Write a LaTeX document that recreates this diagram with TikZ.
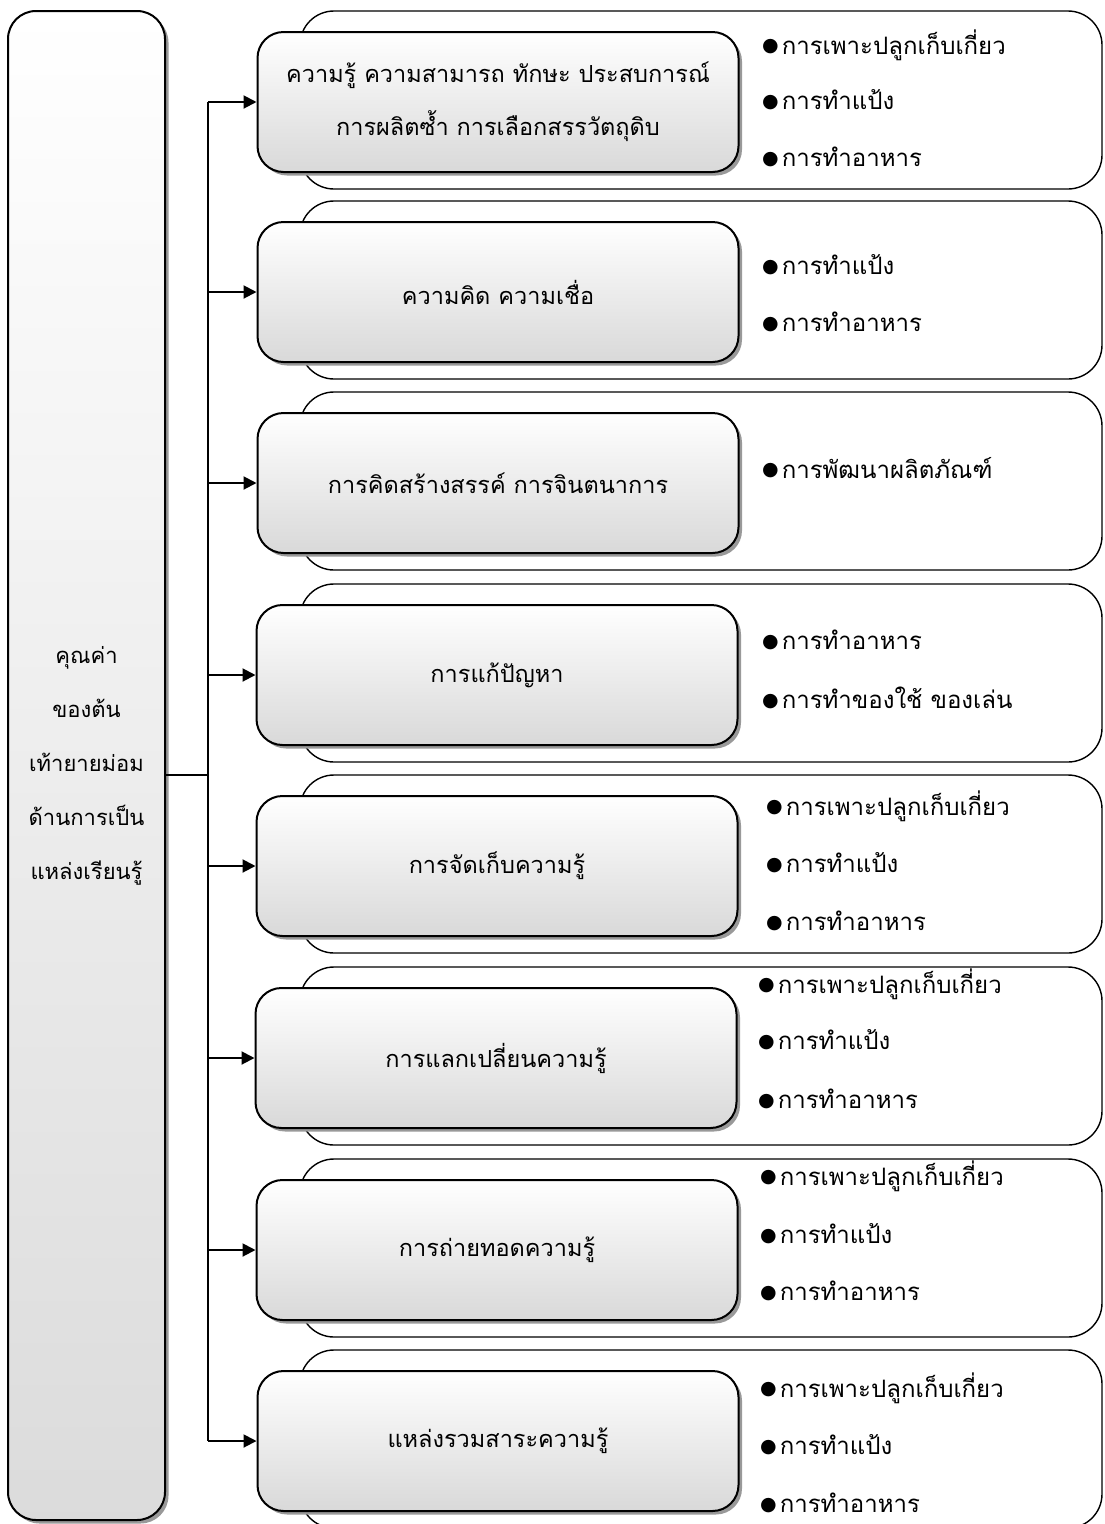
\documentclass[tikz,border=0pt]{standalone}
\usepackage{fontspec}
\newfontfamily\thai[Script=Thai]{Loma}
\newfontfamily\dejavu{DejaVu Sans}
\usetikzlibrary{arrows.meta,shadows}
\tikzset{
  innerbox/.style={draw=black, line width=2pt, rounded corners=26pt, top color=white, bottom color=black!15,
     minimum width=481pt, minimum height=140pt, inner sep=0pt, align=center,
     font=\thai\fontsize{23.5}{53}\selectfont,
     drop shadow={shadow xshift=3.5pt, shadow yshift=-3.5pt, fill=black!40, opacity=1}},
  leftbox/.style={draw=black, line width=2pt, rounded corners=28pt, top color=white, bottom color=black!14,
     minimum width=157pt, minimum height=1509pt, inner sep=0pt, align=center,
     font=\thai\fontsize{22}{54}\selectfont,
     drop shadow={shadow xshift=3.5pt, shadow yshift=-3.5pt, fill=black!40, opacity=1}},
  itemtxt/.style={anchor=west, inner sep=0pt, font=\thai\fontsize{24}{26}\selectfont},
  outerline/.style={line width=1.4pt, rounded corners=34pt, fill=white},
  conn/.style={line width=2pt},
  arr/.style={line width=2pt, -{Triangle[length=13pt,width=13pt]}},
}
\newcommand{\bul}{\raisebox{2.5pt}{\dejavu\fontsize{19}{19}\selectfont ●}\hspace{3pt}}
\begin{document}
\begin{tikzpicture}[x=1pt,y=-1pt]
\useasboundingbox (0,0) rectangle (1104,1524);
% outer boxes
\foreach \t in {32,222,413,605,796,988,1180,1371}{
  \draw[outerline] (300,\t-21) rectangle (1102,\t+157);
}
% left box
\node[leftbox] (L) at (86.5,765.5) {คุณค่า\\ของต้น\\เท้ายายม่อม\\ด้านการเป็น\\แหล่งเรียนรู้};
% inner boxes
\node[innerbox] (b1) at (498,102) {ความรู้ ความสามารถ ทักษะ ประสบการณ์\\การผลิตซ้ำ การเลือกสรรวัตถุดิบ};
\node[innerbox] (b2) at (498,292) {ความคิด ความเชื่อ};
\node[innerbox] (b3) at (498,483) {การคิดสร้างสรรค์ การจินตนาการ};
\node[innerbox] (b4) at (497,675) {การแก้ปัญหา};
\node[innerbox] (b5) at (497,866) {การจัดเก็บความรู้};
\node[innerbox] (b6) at (496,1058) {การแลกเปลี่ยนความรู้};
\node[innerbox] (b7) at (497,1250) {การถ่ายทอดความรู้};
\node[innerbox] (b8) at (498,1441) {แหล่งรวมสาระความรู้};
% connectors
\coordinate (t1) at (208,102);
\coordinate (t8) at (208,1441);
\coordinate (j) at (208,775);
\draw[conn] (t1) -- (t8);
\draw[conn] (L.east |- j) -- (j);
\foreach \b in {b1,b2,b3,b4,b5,b6,b7,b8}{
  \draw[arr] (t1 |- \b.west) -- (\b.west);
}
% items
\node[itemtxt] (i11) at (762,45) {\bul การเพาะปลูกเก็บเกี่ยว};
\node[itemtxt] (i12) at (762,100) {\bul การทำแป้ง};
\node[itemtxt] (i13) at (762,157) {\bul การทำอาหาร};
\node[itemtxt] (i21) at (762,265) {\bul การทำแป้ง};
\node[itemtxt] (i22) at (762,322) {\bul การทำอาหาร};
\node[itemtxt] (i31) at (762,468) {\bul การพัฒนาผลิตภัณฑ์};
\node[itemtxt] (i41) at (762,640) {\bul การทำอาหาร};
\node[itemtxt] (i42) at (762,698) {\bul การทำของใช้ ของเล่น};
\node[itemtxt] (i51) at (766,806) {\bul การเพาะปลูกเก็บเกี่ยว};
\node[itemtxt] (i52) at (766,863) {\bul การทำแป้ง};
\node[itemtxt] (i53) at (766,921) {\bul การทำอาหาร};
\node[itemtxt] (i61) at (758,984) {\bul การเพาะปลูกเก็บเกี่ยว};
\node[itemtxt] (i62) at (758,1040) {\bul การทำแป้ง};
\node[itemtxt] (i63) at (758,1099) {\bul การทำอาหาร};
\node[itemtxt] (i71) at (760,1176) {\bul การเพาะปลูกเก็บเกี่ยว};
\node[itemtxt] (i72) at (760,1234) {\bul การทำแป้ง};
\node[itemtxt] (i73) at (760,1291) {\bul การทำอาหาร};
\node[itemtxt] (i81) at (760,1388) {\bul การเพาะปลูกเก็บเกี่ยว};
\node[itemtxt] (i82) at (760,1445) {\bul การทำแป้ง};
\node[itemtxt] (i83) at (760,1503) {\bul การทำอาหาร};
\end{tikzpicture}
\end{document}
